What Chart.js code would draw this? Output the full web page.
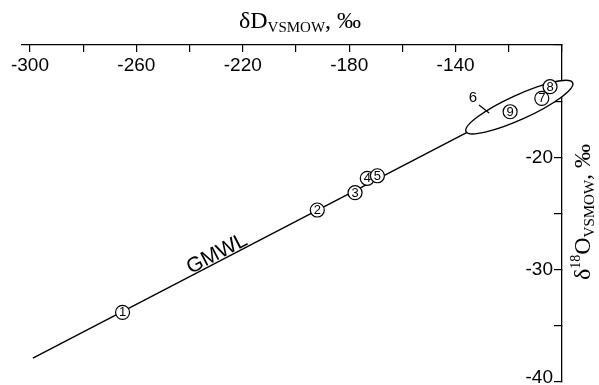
<!DOCTYPE html>
<html><head><meta charset="utf-8">
<script src="https://cdn.jsdelivr.net/npm/chart.js@4/dist/chart.umd.min.js"></script>
<style>html,body{margin:0;padding:0;background:#fff}</style>
</head><body>
<canvas id="c" width="599" height="385"></canvas>
<script>
// ---- data ----
const sampleIds   = ['1','2','3','4','5','7','8','9'];
const sampleD     = [-265.2, -192.0, -177.8, -173.2, -169.4, -107.6, -104.5, -119.5]; // δD, ‰
const sampleO     = [-33.80, -24.69, -23.15, -21.87, -21.64, -14.75, -13.71, -15.94]; // δ18O, ‰
const gmwlD       = [-298.9, -106.4];
const gmwlO       = [-37.87, -14.18];
// group 6: ellipse (major-axis ends + one minor-axis edge point), in data units
const group6D     = [-136.1, -96.0, -114.1];
const group6O     = [-17.70, -13.36, -16.51];
const group6Label = '6';
const group6LabelD = -133.5, group6LabelO = -14.75;
const leaderD     = [-131.2, -127.4];
const leaderO     = [-15.34, -16.05];
const gmwlLabel   = 'GMWL';
const gmwlLabelD  = -229.7, gmwlLabelO = -28.60;
const xTickValues = [-300,-280,-260,-240,-220,-200,-180,-160,-140,-120,-100];
const xTickLabels = [-300,-260,-220,-180,-140];
const yTickValues = [-40,-35,-30,-25,-20,-15,-10];
const yTickLabels = [-40,-30,-20];

const SANS = 'Liberation Sans, Arial, sans-serif';
const SERIF = 'Liberation Serif, Times New Roman, serif';

function drawRuns(ctx, runs, cx, baseY) {
  let total = 0;
  runs.forEach(r => { ctx.font = r.s + 'px ' + SERIF; r.w = ctx.measureText(r.t).width; total += r.w; });
  let x = cx - total / 2;
  ctx.textBaseline = 'alphabetic'; ctx.textAlign = 'left'; ctx.fillStyle = '#000';
  runs.forEach(r => { ctx.font = r.s + 'px ' + SERIF; ctx.fillText(r.t, x, baseY + (r.dy || 0)); x += r.w; });
}

const decor = {
  id: 'decor',
  afterDatasetDraw(chart, args) {
    if (args.index !== 0) return;
    const ctx = chart.ctx, sx = chart.scales.x, sy = chart.scales.y;
    const ax = sx.getPixelForValue(group6D[0]), ay = sy.getPixelForValue(group6O[0]);
    const bx = sx.getPixelForValue(group6D[1]), by = sy.getPixelForValue(group6O[1]);
    const mx = sx.getPixelForValue(group6D[2]), my = sy.getPixelForValue(group6O[2]);
    const cx = (ax + bx) / 2, cy = (ay + by) / 2;
    const a = Math.hypot(bx - ax, by - ay) / 2;
    const ang = Math.atan2(by - ay, bx - ax);
    const b = Math.abs((mx - cx) * Math.sin(ang) - (my - cy) * Math.cos(ang));
    ctx.save();
    ctx.beginPath();
    ctx.ellipse(cx, cy, a, b, ang, 0, Math.PI * 2);
    ctx.fillStyle = '#fff'; ctx.fill();
    ctx.lineWidth = 1.4; ctx.strokeStyle = '#000'; ctx.stroke();
    ctx.restore();
  },
  afterDatasetsDraw(chart) {
    const ctx = chart.ctx, sx = chart.scales.x, sy = chart.scales.y;
    ctx.save();
    const meta = chart.getDatasetMeta(2);
    ctx.fillStyle = '#000'; ctx.textAlign = 'center'; ctx.textBaseline = 'middle';
    ctx.font = '13px ' + SANS;
    meta.data.forEach((el, i) => ctx.fillText(sampleIds[i], el.x, el.y + 0.5));
    ctx.font = '15px ' + SANS;
    ctx.fillText(group6Label, sx.getPixelForValue(group6LabelD), sy.getPixelForValue(group6LabelO));
    const x0 = sx.getPixelForValue(gmwlD[0]), y0 = sy.getPixelForValue(gmwlO[0]);
    const x1 = sx.getPixelForValue(gmwlD[1]), y1 = sy.getPixelForValue(gmwlO[1]);
    const ang = Math.atan2(y1 - y0, x1 - x0);
    ctx.translate(sx.getPixelForValue(gmwlLabelD), sy.getPixelForValue(gmwlLabelO));
    ctx.rotate(ang);
    ctx.font = '21px ' + SANS;
    ctx.fillText(gmwlLabel, 0, 0);
    ctx.restore();
  },
  afterDraw(chart) {
    const ctx = chart.ctx;
    ctx.save();
    drawRuns(ctx, [{t:'δD', s:24}, {t:'VSMOW', s:15, dy:4}, {t:', ‰', s:24}], 300, 28);
    ctx.translate(590, 212);
    ctx.rotate(-Math.PI / 2);
    drawRuns(ctx, [{t:'δ', s:24}, {t:'18', s:14, dy:-10}, {t:'O', s:24}, {t:'VSMOW', s:15, dy:4}, {t:', ‰', s:24}], 0, 0);
    ctx.restore();
  }
};

new Chart(document.getElementById('c'), {
  data: {
    datasets: [
      { type: 'line', label: 'GMWL', data: gmwlD.map((d, i) => ({x: d, y: gmwlO[i]})),
        borderColor: '#000', borderWidth: 1.4, pointRadius: 0, fill: false, order: 3, clip: false },
      { type: 'line', label: 'leader', data: leaderD.map((d, i) => ({x: d, y: leaderO[i]})),
        borderColor: '#000', borderWidth: 1.2, pointRadius: 0, fill: false, order: 2, clip: false },
      { type: 'scatter', label: 'samples', data: sampleD.map((d, i) => ({x: d, y: sampleO[i]})),
        pointRadius: 7, pointBackgroundColor: '#fff', pointBorderColor: '#000', pointBorderWidth: 1.2,
        order: 1, clip: false }
    ]
  },
  options: {
    responsive: false, animation: false,
    layout: { autoPadding: false, padding: { left: 22, top: 0, right: 0, bottom: 3 } },
    plugins: { legend: { display: false }, tooltip: { enabled: false } },
    scales: {
      x: {
        type: 'linear', position: 'top', min: -303, max: -100,
        afterBuildTicks: s => { s.ticks = xTickValues.map(v => ({value: v})); },
        ticks: { autoSkip: false, maxRotation: 0, mirror: true, padding: 9, color: '#000',
          font: { family: SANS, size: 19 },
          callback: v => xTickLabels.includes(v) ? String(v) : '' },
        grid: { drawOnChartArea: false, drawTicks: true, tickLength: -7, color: '#000', lineWidth: 1.2 },
        border: { display: true, color: '#000', width: 1.3 },
        afterFit: s => { s.height = 45; s.paddingLeft = 0; s.paddingRight = 0; s.paddingTop = 0; s.paddingBottom = 0; }
      },
      y: {
        type: 'linear', position: 'right', min: -40, max: -10,
        afterBuildTicks: s => { s.ticks = yTickValues.map(v => ({value: v})); },
        ticks: { autoSkip: false, mirror: true, padding: -9, color: '#000',
          font: c => (c.tick && c.tick.value === -40) ? { family: SANS, size: 19, lineHeight: '9px' } : { family: SANS, size: 19 },
          callback: v => v === -40 ? ['-40', ''] : (yTickLabels.includes(v) ? String(v) : '') },
        grid: { drawOnChartArea: false, drawTicks: true, tickLength: -8, color: '#000', lineWidth: 1.2 },
        border: { display: true, color: '#000', width: 1.3 },
        afterFit: s => { s.width = 37; s.paddingTop = 0; s.paddingBottom = 0; s.paddingLeft = 0; s.paddingRight = 0; }
      }
    }
  },
  plugins: [decor]
});
</script>
</body></html>
